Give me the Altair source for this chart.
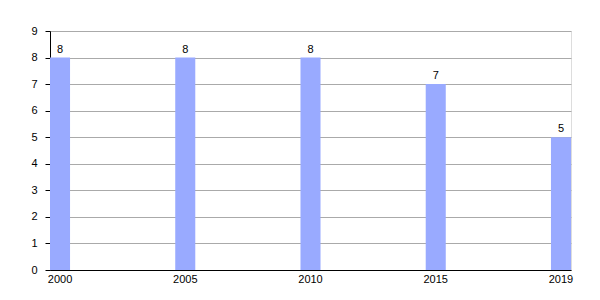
import altair as alt
import pandas as pd

years = ["2000", "2005", "2010", "2015", "2019"]
values = [8, 8, 8, 7, 5]

df = pd.DataFrame({"year": years, "value": values})

x = alt.X("year:O", title=None, sort=years,
          scale=alt.Scale(paddingInner=0.84, paddingOuter=0),
          axis=alt.Axis(labelAngle=0, ticks=False, domainColor="#000000", domainWidth=1,
                        labelFont="Liberation Sans", labelFontSize=11, labelColor="#000000",
                        labelPadding=3, grid=False))
y = alt.Y("value:Q", title=None,
          scale=alt.Scale(domain=[0, 9], nice=False),
          axis=alt.Axis(values=list(range(10)), tickCount=10, grid=True, gridColor="#aaaaaa",
                        gridWidth=1, domainColor="#000000", tickColor="#000000", tickSize=5,
                        labelFont="Liberation Sans", labelFontSize=11, labelColor="#000000",
                        labelPadding=8, format="d"))

bars = alt.Chart(df).mark_bar(color="#99aaff").encode(x=x, y=y)
text = alt.Chart(df).mark_text(dy=-8, font="Liberation Sans", fontSize=11, color="#000000").encode(
    x=alt.X("year:O", sort=years), y="value:Q", text="value:Q")

chart = (bars + text).properties(
    width=521, height=239,
    autosize=alt.AutoSizeParams(type="none"),
    padding={"left": 50, "top": 31, "right": 29, "bottom": 30},
).configure_view(stroke=None).configure(background="#ffffff")

chart.save("out.html", embed_options={"renderer": "svg", "actions": False})
